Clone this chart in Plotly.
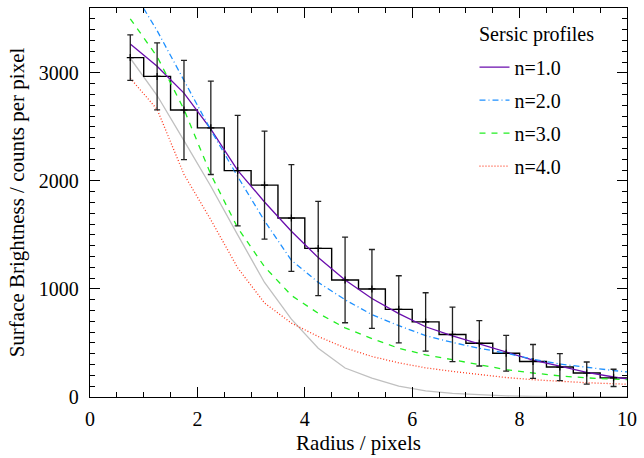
import plotly.graph_objects as go

# ---- data ----
radius = [0.75, 1.25, 1.75, 2.25, 2.75, 3.25, 3.75, 4.25, 4.75, 5.25,
          5.75, 6.25, 6.75, 7.25, 7.75, 8.25, 8.75, 9.25, 9.75]
brightness = [3141, 2967, 2656, 2491, 2095, 1961, 1656, 1375, 1083, 1000,
              811, 695, 579, 497, 405, 329, 277, 222, 177]
brightness_err = [210, 310, 460, 432, 511, 500, 494, 436, 396, 365,
                  311, 270, 252, 210, 165, 157, 125, 102, 80]

model_radius = [0.75, 1.25, 1.75, 2.25, 2.75, 3.25, 3.75, 4.25, 4.75, 5.25,
                5.75, 6.25, 6.75, 7.25, 7.75, 8.25, 8.75, 9.25, 9.75, 10.0]
sersic_n1 = [3266, 3060, 2812, 2479, 2098, 1805, 1534, 1290, 1083, 912,
             771, 650, 565, 490, 415, 342, 285, 228, 185, 168]
sersic_n2 = [3800, 3390, 2930, 2470, 2040, 1630, 1265, 1061, 900, 762,
             660, 568, 505, 451, 405, 350, 305, 272, 245, 232]
sersic_n3 = [3500, 3150, 2662, 2060, 1566, 1205, 940, 775, 640, 540,
             451, 390, 345, 299, 253, 222, 195, 177, 165, 160]
sersic_n4 = [2950, 2662, 2060, 1640, 1195, 870, 684, 560, 455, 375,
             316, 270, 237, 208, 180, 160, 143, 132, 123, 118]
psf_profile = [3135, 2790, 2372, 1950, 1500, 1060, 720, 451, 268, 175,
               101, 56, 34, 20, 10, 5, 2, 1, 0, 0]

legend_title = "Sersic profiles"
series_names = ["n=1.0", "n=2.0", "n=3.0", "n=4.0"]
series_values = [sersic_n1, sersic_n2, sersic_n3, sersic_n4]
series_colors = ["#6a0dad", "#1e90ff", "#22ee22", "#ff3a1e"]
series_dash = ["solid", "6px,3px,1px,3px", "6px,6px", "1px,2px"]

FONT = "Liberation Serif"
f20 = dict(family=FONT, size=20, color="black")
f21 = dict(family=FONT, size=21, color="black")

fig = go.Figure()

# grey profile (no legend)
fig.add_trace(go.Scatter(x=model_radius, y=psf_profile, mode="lines",
                         line=dict(color="#c0c0c0", width=1.3),
                         showlegend=False, hoverinfo="skip"))

# histogram-style data
half_bin = (radius[1] - radius[0]) / 2
step_x = radius + [radius[-1] + half_bin]
step_y = brightness + [brightness[-1]]
fig.add_trace(go.Scatter(x=step_x, y=step_y, mode="lines",
                         line=dict(color="black", width=1.4, shape="hvh"),
                         showlegend=False, hoverinfo="skip"))

# model curves
for i, (name, vals, col, dash) in enumerate(zip(series_names, series_values,
                                                 series_colors, series_dash)):
    fig.add_trace(go.Scatter(x=model_radius, y=vals, mode="lines", name=name,
                             legendgroup="g%d" % i,
                             line=dict(color=col, width=1.3, dash=dash)))

# error bars
fig.add_trace(go.Scatter(x=radius, y=brightness, mode="markers",
                         marker=dict(symbol="cross-thin", size=5,
                                     line=dict(color="black", width=1.2)),
                         error_y=dict(type="data", array=brightness_err,
                                      visible=True, color="#222222",
                                      thickness=1.3, width=3),
                         showlegend=False))

fig.add_annotation(text=legend_title, xref="paper", yref="paper",
                   x=0.721, y=0.931, xanchor="left", yanchor="middle",
                   showarrow=False, font=f20)

fig.update_layout(
    width=644, height=458,
    margin=dict(l=90, r=12, t=7, b=57),
    paper_bgcolor="white", plot_bgcolor="white",
    font=f20,
    showlegend=True,
    legend=dict(x=0.716, y=0.898, xanchor="left", yanchor="top",
                bgcolor="rgba(0,0,0,0)", borderwidth=0,
                itemwidth=30, tracegroupgap=4,
                font=f20),
    xaxis=dict(range=[0, 10], tickmode="linear", tick0=0, dtick=2,
               ticks="inside", ticklen=10, tickwidth=1, tickcolor="black",
               minor=dict(dtick=0.5, ticks="inside", ticklen=5,
                          tickcolor="black", tickwidth=1),
               showline=True, linecolor="black", linewidth=1.3,
               mirror="allticks", showgrid=False, zeroline=False,
               tickfont=f20,
               title=dict(text="Radius / pixels", standoff=6, font=f21),
               ticklabelstandoff=4),
    yaxis=dict(range=[0, 3600], tickmode="linear", tick0=0, dtick=1000,
               ticks="inside", ticklen=10, tickwidth=1, tickcolor="black",
               minor=dict(dtick=100, ticks="inside", ticklen=5,
                          tickcolor="black", tickwidth=1),
               showline=True, linecolor="black", linewidth=1.3,
               mirror="allticks", showgrid=False, zeroline=False,
               tickfont=f20,
               title=dict(text="Surface Brightness / counts per pixel",
                          standoff=8, font=f21),
               ticklabelstandoff=6),
)

fig.write_html("out.html")
